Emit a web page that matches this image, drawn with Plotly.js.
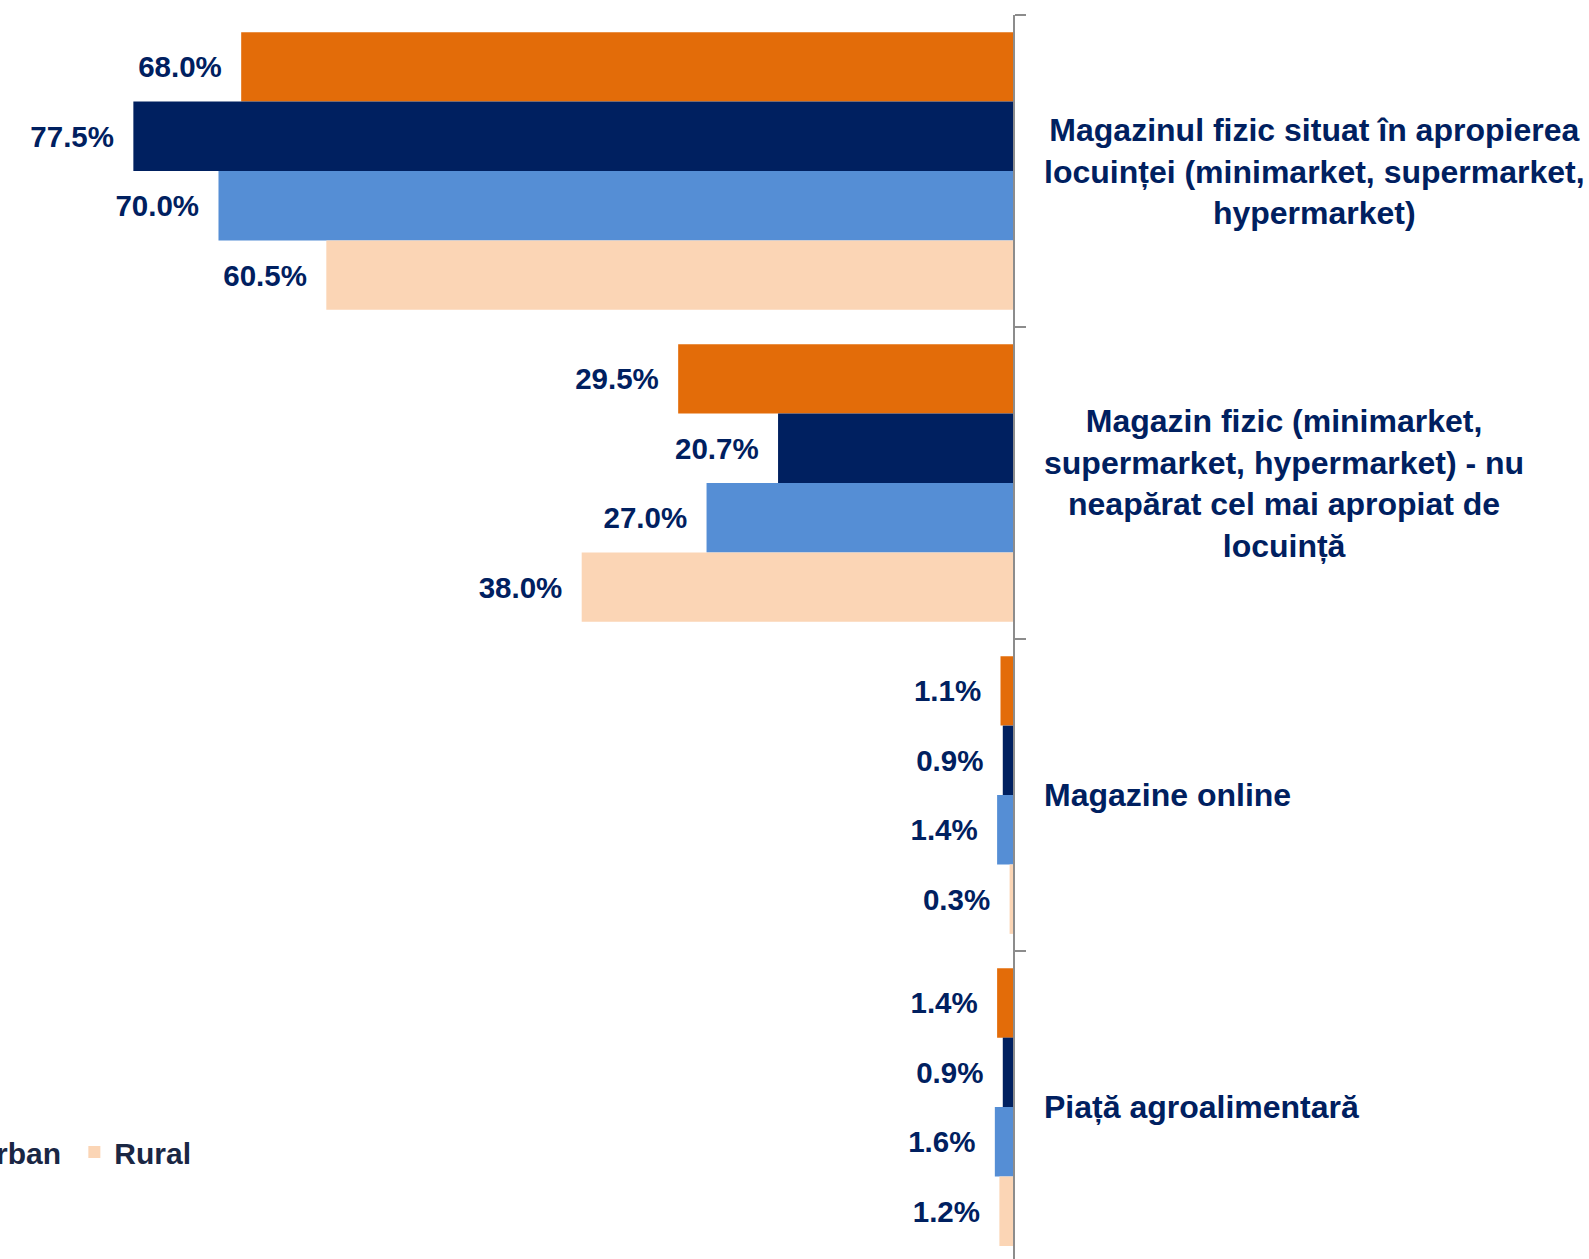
<!DOCTYPE html>
<html>
<head>
<meta charset="utf-8">
<script src="https://cdn.plot.ly/plotly-3.0.1.min.js"></script>
<style>
html, body { margin: 0; padding: 0; background: #ffffff; }
#chart { width: 1589px; height: 1259px; }
</style>
</head>
<body>
<div id="chart"></div>
<script>
// Categories (top to bottom)
const categories = [
  "Magazinul fizic situat în apropierea<br>locuinței (minimarket, supermarket,<br>hypermarket)",
  "Magazin fizic (minimarket,<br>supermarket, hypermarket) - nu<br>neapărat cel mai apropiat de<br>locuință",
  "Magazine online",
  "Piață agroalimentară"
];
const categoryKeys = ["c1", "c2", "c3", "c4"];

// Series names (only "...rban" and "Rural" visible in the reference legend)
const seriesNames = ["Total", "București", "Urban\u00a0", "Rural"];

// Series values (%)
const seriesTotal = [68.0, 29.5, 1.1, 1.4];
const seriesBucuresti = [77.5, 20.7, 0.9, 0.9];
const seriesUrban = [70.0, 27.0, 1.4, 1.6];
const seriesRural = [60.5, 38.0, 0.3, 1.2];

const seriesValues = [seriesTotal, seriesBucuresti, seriesUrban, seriesRural];
const seriesColors = ["#e36c09", "#002060", "#558ed5", "#fbd5b5"];

const NAVY = "#002060";
const FONT = "Liberation Sans, Arial, sans-serif";

const traces = seriesValues.map((vals, i) => ({
  type: "bar",
  orientation: "h",
  name: seriesNames[i],
  x: vals,
  y: categoryKeys,
  marker: { color: seriesColors[i], line: { width: 0 } },
  texttemplate: "%{x:.1f}%\u00a0\u00a0",
  textposition: "outside",
  constraintext: "none",
  cliponaxis: false,
  textfont: { family: FONT, size: 29.5, color: NAVY, weight: "bold" },
  hoverinfo: "skip"
}));

const annotations = categoryKeys.map((k, i) => ({
  xref: "paper", yref: "y",
  x: 1, y: k,
  xshift: 29,
  xanchor: "left", yanchor: "middle",
  align: "center",
  showarrow: false,
  text: categories[i],
  font: { family: FONT, size: 32, color: NAVY, weight: "bold" }
}));

const layout = {
  width: 1589,
  height: 1259,
  paper_bgcolor: "#ffffff",
  plot_bgcolor: "#ffffff",
  margin: { l: 0, r: 576, t: 15, b: 0, pad: 0, autoexpand: false },
  barmode: "group",
  bargap: 0.11,
  bargroupgap: 0,
  showlegend: true,
  legend: {
    orientation: "h",
    traceorder: "normal",
    xref: "paper", yref: "paper",
    x: 0.194, xanchor: "right",
    y: 0.086, yanchor: "middle",
    bgcolor: "rgba(0,0,0,0)",
    font: { family: FONT, size: 30, color: "#1a2744", weight: "bold" }
  },
  xaxis: {
    range: [89.25, 0],
    visible: false,
    showgrid: false,
    zeroline: false,
    fixedrange: true
  },
  yaxis: {
    type: "category",
    categoryarray: categoryKeys,
    range: [3.487, -0.5],
    side: "right",
    showline: true,
    linecolor: "#8c8c8c",
    linewidth: 2,
    ticks: "outside",
    tickson: "boundaries",
    ticklen: 11,
    tickwidth: 2,
    tickcolor: "#8c8c8c",
    showticklabels: false,
    showgrid: false,
    zeroline: false,
    fixedrange: true
  },
  annotations: annotations
};

Plotly.newPlot("chart", traces, layout, { displayModeBar: false, staticPlot: true });
</script>
</body>
</html>
